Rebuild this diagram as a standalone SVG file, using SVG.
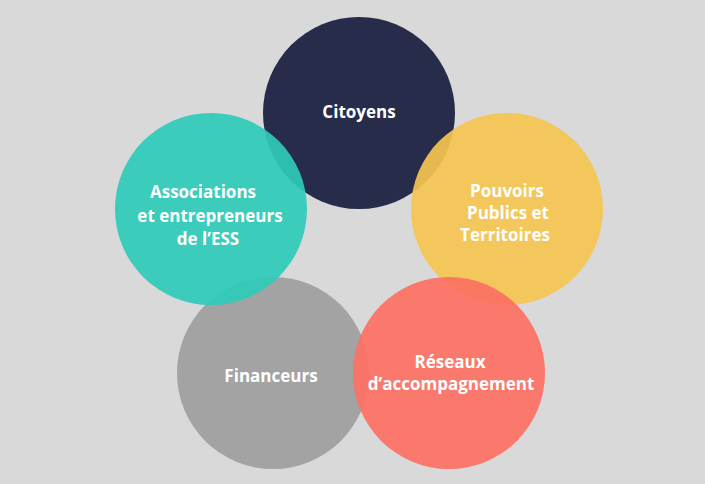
<svg xmlns="http://www.w3.org/2000/svg" width="705" height="484" viewBox="0 0 705 484">
<style>
.c{opacity:0.92}
.t{font-family:"Open Sans","Liberation Sans",sans-serif;font-weight:700;font-size:17px;fill:#ffffff;text-anchor:middle}
</style>
<rect width="705" height="484" fill="#d9d9d9"/>
<g id="citoyens"><circle cx="359" cy="113" r="96" fill="#272c4b"/><text class="t" x="359" y="118">Citoyens</text></g>
<g id="financeurs"><circle class="c" cx="273" cy="373" r="96" fill="#9e9e9e"/><text class="t" x="271" y="382">Financeurs</text></g>
<g id="pouvoirs"><circle class="c" cx="507" cy="209" r="96" fill="#f5c550"/><text class="t" x="507" y="197">Pouvoirs</text><text class="t" x="508" y="219">Publics et</text><text class="t" x="505" y="241">Territoires</text></g>
<g id="associations"><circle class="c" cx="211" cy="209" r="96" fill="#2ecbb9"/><text class="t" x="203" y="198">Associations</text><text class="t" x="210" y="222">et entrepreneurs</text><text class="t" x="208" y="245">de l’ESS</text></g>
<g id="reseaux"><circle class="c" cx="449" cy="373" r="96" fill="#fd7063"/><text class="t" x="450" y="368">Réseaux</text><text class="t" x="451" y="390">d’accompagnement</text></g>
<g id="connectors"></g>
</svg>
